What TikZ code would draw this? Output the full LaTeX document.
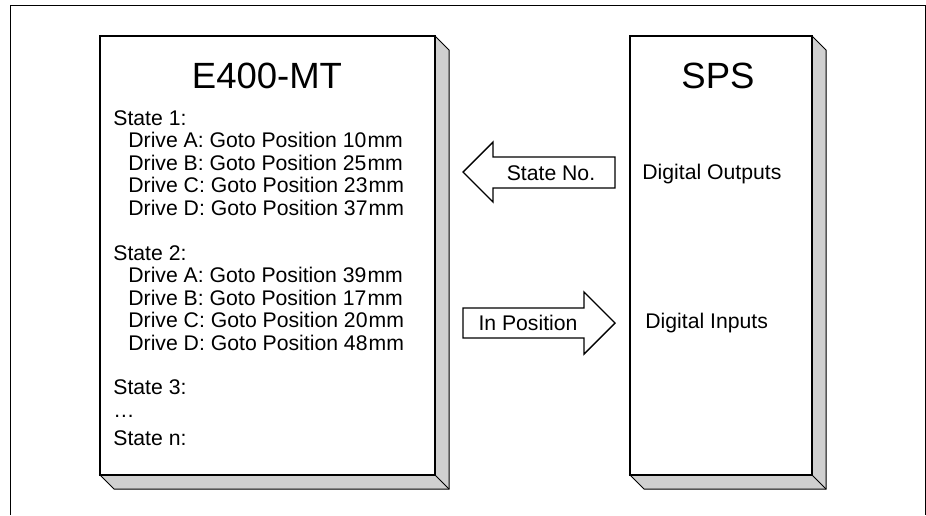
\documentclass[tikz,border=0pt]{standalone}
\usepackage{fontspec}
\setmainfont{Liberation Sans}
\usepackage{xcolor}

\definecolor{shadowgray}{RGB}{208,208,208}
\tikzset{
  shadowface/.style={draw=black, line width=0.5pt, fill=shadowgray},
  frontface/.style={draw=black, line width=1pt, fill=white},
  blockarrow/.style={draw=black, line width=0.7pt, fill=white, line join=miter},
  boxtitle/.style={font=\fontsize{18.25}{20}\selectfont, inner sep=0pt, anchor=base},
  boxtext/.style={font=\fontsize{10.6}{12}\selectfont, inner sep=0pt, anchor=base west},
}
\newcommand{\mmgap}{\kern0.6pt mm}

\begin{document}
\begin{tikzpicture}[x=0.5pt,y=-0.5pt]
	\useasboundingbox (0,0) rectangle (926,515);
	% Frame, open at the bottom
	\draw[line width=0.5pt] (10,515) -- (10,5) -- (925,5) -- (925,515);
	% E400-MT box
	\draw[shadowface] (435,36) -- (449,50) -- (449,489) -- (114,489) -- (100,475) -- (435,475) -- cycle;
	\draw[shadowface] (435,475) -- (449,489);
	\draw[frontface] (100,36) rectangle (435,475);
	\node[boxtitle] (mttitle) at (267,88) {E400-MT};
	\foreach \n/\x/\y/\txt in {
		1/113/125/State 1:,
		2/128/147.5/Drive A: Goto Position 10\mmgap,
		3/128/170/Drive B: Goto Position 25\mmgap,
		4/128/192.5/Drive C: Goto Position 23\mmgap,
		5/128/215/Drive D: Goto Position 37\mmgap,
		6/113/260/State 2:,
		7/128/282.5/Drive A: Goto Position 39\mmgap,
		8/128/305/Drive B: Goto Position 17\mmgap,
		9/128/327.5/Drive C: Goto Position 20\mmgap,
		10/128/350/Drive D: Goto Position 48\mmgap,
		11/113/394/State 3:,
		12/113/417.5/…,
		13/113/445/State n:}
		\node[boxtext] (mtline\n) at (\x,\y) {\txt};
	% SPS box
	\draw[shadowface] (812,36) -- (826,50) -- (826,489) -- (644,489) -- (630,475) -- (812,475) -- cycle;
	\draw[shadowface] (812,475) -- (826,489);
	\draw[frontface] (630,36) rectangle (812,475);
	\node[boxtitle] (spstitle) at (718,88) {SPS};
	\node[boxtext] (spsout) at (642,179) {Digital Outputs};
	\node[boxtext] (spsin) at (645,328) {Digital Inputs};
	% Block arrows
	\draw[blockarrow] (615,157) -- (493,157) -- (493,142) -- (463,172) -- (493,202) -- (493,188) -- (615,188) -- cycle;
	\node[boxtext, anchor=base] (stateno) at (551,180) {State No.};
	\draw[blockarrow] (463,308) -- (584,308) -- (584,292) -- (615,323) -- (584,354) -- (584,338) -- (463,338) -- cycle;
	\node[boxtext, anchor=base] (inpos) at (528,330) {In Position};
\end{tikzpicture}
\end{document}
